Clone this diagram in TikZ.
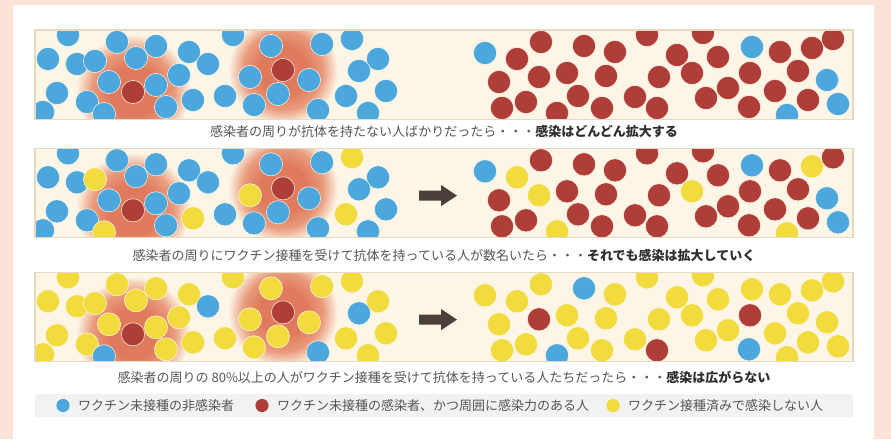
\documentclass[tikz,border=0pt]{standalone}
\usepackage{fontspec}
\setmainfont{Noto Sans CJK JP}
\definecolor{pagebg}{HTML}{FBE3D7}
\definecolor{panelbg}{HTML}{FDF6E7}
\definecolor{panelborder}{HTML}{E5DABD}
\definecolor{pblue}{HTML}{4BA7DC}
\definecolor{pred}{HTML}{B03E38}
\definecolor{pyellow}{HTML}{F2DB3D}
\definecolor{glowc}{HTML}{E07A5C}
\definecolor{glowmid}{HTML}{E99A7C}
\definecolor{legendbg}{HTML}{F2F2F2}
\definecolor{txtgrey}{HTML}{555555}
\definecolor{txtdark}{HTML}{2E2E2E}
\definecolor{arrowc}{HTML}{4A3F39}
\pgfdeclareradialshading{glow}{\pgfpointorigin}{color(0bp)=(glowc); color(11bp)=(glowc); color(18bp)=(glowmid); color(25bp)=(panelbg); color(50bp)=(panelbg)}
\tikzset{
  person/.style={draw=panelbg, line width=0.5pt},
  caption/.style={font=\fontsize{13}{15}\selectfont, text=txtgrey, inner sep=0pt},
  legtext/.style={font=\fontsize{13}{15}\selectfont, text=txtgrey, inner sep=0pt, anchor=west},
  panelframe/.style={draw=panelborder, line width=1.2pt},
  movearrow/.style={fill=arrowc},
}
\def\Lpos{68/5,48/29,77/34,95/31,117/12,136/28,156/16,189/22,208/34,179/45,109/52,133/62,156/55,57/63,87/72,104/84,43/82,166/77,193/70,225/66,233/5,271/16,283/40,250/47,309/50,278/64,254/75,318/80,322/14,352/9,378/29,359/41,386/61,346/66,368/83}
\def\Rpos{485/23,517/29,541/12,584/16,615/22,647/5,677/25,703/3,718/27,752/17,780/22,812/18,833/9,499/52,539/47,567/43,606/46,659/47,692/43,750/43,798/41,827/50,502/78,526/72,578/66,557/83,602/78,635/67,657/78,706/68,728/58,749/77,775/61,808/70,787/85,838/74}
% colour codes: 0 blue, 1 red, 2 yellow
\def\CLa{{0,0,0,0,0,0,0,0,0,0,0,1,0,0,0,0,0,0,0,0,0,0,1,0,0,0,0,0,0,0,0,0,0,0,0}}
\def\CLb{{0,0,0,2,0,0,0,0,0,0,0,1,0,0,0,2,0,0,2,0,0,0,1,2,0,0,0,0,0,2,0,0,0,2,0}}
\def\CLc{{2,2,2,2,2,2,2,2,0,2,2,1,2,2,2,0,2,2,2,2,2,2,1,2,2,2,2,0,2,2,2,0,2,2,2}}
\def\CRa{{0,1,1,1,1,1,1,1,1,0,1,1,1,1,1,1,1,1,1,1,1,0,1,1,1,1,1,1,1,1,1,1,1,1,0,0}}
\def\CRb{{0,2,1,1,1,1,1,1,1,0,1,2,1,1,2,1,1,1,2,1,1,0,1,1,1,2,1,1,1,1,1,1,1,1,2,0}}
\def\CRc{{2,2,2,0,2,2,2,2,2,2,2,2,2,2,1,2,2,2,2,1,2,2,2,2,2,0,2,2,1,2,2,0,2,2,2,2}}
\newcommand\peoplegroup[3]{%
  \foreach \px/\py [count=\k from 0] in #2 {
    \pgfmathtruncatemacro\cc{#3[\k]}
    \ifcase\cc\def\pc{pblue}\or\def\pc{pred}\else\def\pc{pyellow}\fi
    \path[person, fill=\pc] (\px,#1+\py) circle (11.6);
  }%
}
\newcommand\panelcontent[3]{% #1 top, #2 left colours, #3 right colours
  \begin{scope}
    \clip (35,#1) rectangle (853,#1+89.5);
    \fill[panelbg] (35,#1) rectangle (853,#1+89.5);
    \shade[shading=glow] (133,#1+61) circle (57);
    \shade[shading=glow] (283,#1+40) circle (55);
    \peoplegroup{#1}{\Lpos}{#2}
    \peoplegroup{#1}{\Rpos}{#3}
  \end{scope}
  \draw[panelframe] (35,#1) rectangle (853,#1+89.5);
}
\begin{document}
\begin{tikzpicture}[x=1pt,y=-1pt]
\useasboundingbox (0,0) rectangle (891,439);
\fill[pagebg] (0,0) rectangle (891,439);
\fill[white] (13.3,5) rectangle (873.5,439);
\panelcontent{30}{\CLa}{\CRa}
\panelcontent{148.3}{\CLb}{\CRb}
\panelcontent{272.3}{\CLc}{\CRc}
% arrows
\fill[movearrow] (419,190.6) -- (441,190.6) -- (441,185) -- (457,195.6) -- (441,206.2) -- (441,200.6) -- (419,200.6) -- cycle;
\fill[movearrow] (419,314.6) -- (441,314.6) -- (441,309) -- (457,319.6) -- (441,330.2) -- (441,324.6) -- (419,324.6) -- cycle;
% captions
\node[caption] (cap1) at (444,131) {感染者の周りが抗体を持たない人ばかりだったら・・・\textbf{\color{txtdark}感染はどんどん拡大する}};
\node[caption] (cap2) at (444,255.5) {感染者の周りにワクチン接種を受けて抗体を持っている人が数名いたら・・・\textbf{\color{txtdark}それでも感染は拡大していく}};
\node[caption] (cap3) at (444,377.5) {感染者の周りの 80\%以上の人がワクチン接種を受けて抗体を持っている人たちだったら・・・\textbf{\color{txtdark}感染は広がらない}};
% legend
\fill[legendbg] (35,394) rectangle (853,417);
\fill[pblue] (63,405.5) circle (6.6);
\node[legtext] (leg1) at (78,405.5) {ワクチン未接種の非感染者};
\fill[pred] (262,405.5) circle (6.6);
\node[legtext] (leg2) at (277,405.5) {ワクチン未接種の感染者、かつ周囲に感染力のある人};
\fill[pyellow] (613,405.5) circle (6.6);
\node[legtext] (leg3) at (628,405.5) {ワクチン接種済みで感染しない人};
\end{tikzpicture}
\end{document}
